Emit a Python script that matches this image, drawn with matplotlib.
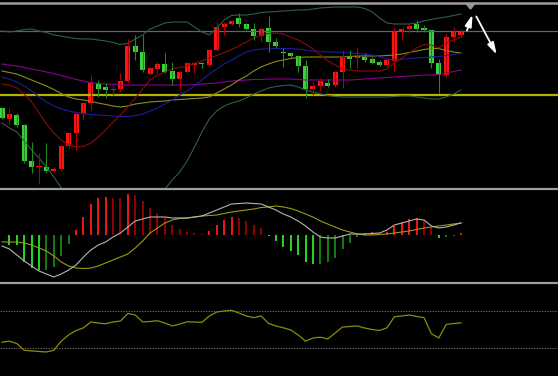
import matplotlib.pyplot as plt
import numpy as np
from matplotlib.lines import Line2D
from matplotlib.patches import Polygon, FancyArrowPatch

# ---- candles (price units) ----
opens = [92, 81, 85, 75, 39, 33, 33, 29, 31, 54,
         67, 86, 97, 117, 113, 110, 111, 119, 154, 148,
         126, 131, 136, 129, 121, 128, 135, 137, 135, 150,
         173, 176, 182, 176, 171, 164, 172, 158, 148, 147,
         144, 134, 111, 114, 117, 115, 128, 143, 142, 143,
         141, 138, 135, 139, 169, 171, 176, 172, 170, 137,
         125, 163, 165]
closes = [82, 86, 75, 39, 33, 34, 29.5, 31, 54, 67,
          86, 97, 117, 111, 110, 111.5, 119, 154, 148, 130,
          132, 136, 128.5, 121, 128, 137, 137.3, 136, 150, 173,
          176, 179.3, 176, 171, 164, 171, 158, 154, 147, 144,
          134, 111, 114, 119, 114.5, 128, 142, 141.5, 144, 140,
          137, 135, 140, 169, 171, 174, 171.5, 170, 137, 125,
          163, 168, 168.5]
highs = [93, 92, 87, 76, 58, 47, 57, 33, 55, 67,
         87, 98, 125, 120, 117, 114, 127, 161, 165, 165,
         133, 138, 147, 138, 130, 138, 138, 138, 151, 178,
         178, 180, 187, 177, 177, 173, 184, 162, 152, 148,
         145, 140, 118, 122, 121, 129, 150, 150, 153, 147,
         143, 140, 142, 173, 172, 176, 180, 175, 170, 141,
         167, 173, 171]
lows = [81, 76, 73, 37, 27, 16, 27, 28, 29, 52,
        50, 80, 90, 103, 102, 105, 108, 117, 140, 128,
        125, 127, 127, 115, 110, 127, 127, 132, 133, 149,
        165, 175.5, 173, 170, 160, 158, 148, 152, 133, 142,
        128, 102, 105, 109, 113, 113, 112, 132, 132, 138,
        136, 134, 133, 128, 160, 167, 168, 168, 132, 107,
        123, 158, 163]

# ---- overlays on the price panel ----
boll_upper = [169, 168, 169, 170.5, 171, 169, 167.5, 165, 164, 162.5,
              161.5, 161, 161, 160, 159, 157.5, 155.5, 156.5, 161, 165,
              171, 174, 177, 178, 178, 178, 173, 168, 165, 172,
              180, 184.5, 185, 185, 186, 187.5, 188, 188.5, 189, 189.5,
              190, 190, 191, 192, 192.5, 193, 193, 193, 193, 191.5,
              188, 182, 177, 176, 176, 176, 177, 179, 180.5, 182,
              183, 184.5, 186]
boll_lower = [77, 72, 68, 59, 50, 42, 33, 23, 12, 4,
              -2, -6, -8, -9, -9, -8, -7, -5, -2, 1,
              4, 7, 11, 20, 28, 39, 53, 68, 81, 89,
              94, 97, 99, 102, 106, 109, 112, 113.5, 114.5, 115,
              113, 110, 108, 106, 104.5, 103.5, 103, 103, 103, 103,
              103, 103, 103, 103.5, 104, 104, 103, 102, 101, 101,
              103, 106, 110]
ma_red = [116, 115, 112, 106, 98, 87, 76, 67, 60, 55,
          53, 53.5, 57, 63, 70, 78, 85, 93, 102, 111,
          120, 125, 128, 131, 132.5, 134, 136.5, 139, 142, 144.5,
          147.5, 150.5, 154, 158, 162, 165, 166.5, 167, 166, 163,
          160, 156, 151, 145, 139, 135, 131, 130, 129, 129,
          129, 129, 131, 137, 142, 147, 152, 155.5, 155, 152,
          157, 160, 163]
ma_blue = [123, 121, 118, 114, 109, 103, 98, 94, 91, 89,
           87.5, 86.5, 85.5, 85, 84.5, 84, 83.5, 83.5, 84.5, 86,
           89, 92, 96, 100, 105, 109, 114, 120, 126, 131,
           136, 140, 144, 148, 150, 151, 151, 151.5, 151.5, 151.5,
           151, 150, 149, 148.5, 148, 148, 147.5, 147, 146.5, 146,
           145, 143, 141, 140, 140.5, 141.5, 142, 142.5, 143, 143.5,
           144.5, 145.5, 147]
ma_olive = [129, 127.5, 126, 123, 120, 117, 114, 110.5, 106.5, 103,
            101, 100, 98.5, 97, 95.5, 94, 93, 94, 96, 97,
            98, 98.5, 99, 100, 100.5, 101, 101.5, 102, 103, 107,
            111, 115, 120, 124, 129, 133, 136, 138.5, 140, 141.5,
            142.5, 143, 143, 143, 143, 143, 143, 143.5, 144, 144,
            144, 144, 144.5, 145, 146, 147.5, 149, 150.5, 151.5, 151.5,
            149.5, 148, 147]
ma_purple = [136, 135, 134, 132.5, 131, 129.5, 128, 126.5, 124.5, 122.5,
             120.5, 119, 117.5, 116.5, 116, 115.5, 115, 115, 115, 115,
             115, 115, 115, 115, 115, 115, 115.5, 116, 116.5, 117,
             118, 119, 119.5, 120, 120.5, 120.5, 121, 121, 121, 121,
             120.5, 120, 120, 120, 120, 120, 120, 120, 120.5, 121,
             121.5, 122, 122.5, 123, 123.5, 124, 124.5, 125, 125, 125.5,
             127, 128.5, 130]
support_level = 105
resist_level = 169

# ---- MACD panel ----
macd_hist = [np.nan, -0.105, -0.105, -0.275, -0.335, -0.355, -0.35, -0.325, -0.215, -0.095,
             0.045, 0.175, 0.305, 0.365, 0.375, 0.37, 0.365, 0.405, 0.395, 0.335,
             0.265, 0.215, 0.165, 0.095, 0.055, 0.025, 0.015, 0.005, 0.035, 0.095,
             0.145, 0.175, 0.165, 0.135, 0.095, 0.065, -0.01, -0.065, -0.125, -0.165,
             -0.205, -0.275, -0.295, -0.29, -0.275, -0.235, -0.145, -0.085, -0.025, 0.015,
             0.025, 0.02, 0.03, 0.085, 0.125, 0.155, 0.165, 0.145, 0.065, -0.035,
             -0.025, -0.015, 0.015]
dif = [-0.115, -0.145, -0.205, -0.265, -0.315, -0.365, -0.395, -0.425, -0.395, -0.355,
       -0.305, -0.225, -0.155, -0.105, -0.075, -0.025, 0.015, 0.075, 0.135, 0.155,
       0.175, 0.175, 0.175, 0.165, 0.165, 0.165, 0.175, 0.185, 0.215, 0.245,
       0.275, 0.305, 0.31, 0.315, 0.31, 0.305, 0.275, 0.245, 0.205, 0.175,
       0.135, 0.085, 0.025, -0.025, -0.035, -0.035, -0.015, 0.005, 0.005, 0.005,
       0.01, 0.015, 0.045, 0.095, 0.115, 0.135, 0.155, 0.145, 0.085, 0.065,
       0.075, 0.095, 0.115]
dea = [-0.075, -0.075, -0.075, -0.085, -0.105, -0.135, -0.165, -0.215, -0.275, -0.315,
       -0.335, -0.34, -0.335, -0.315, -0.285, -0.255, -0.225, -0.195, -0.135, -0.065,
       0.015, 0.065, 0.115, 0.145, 0.16, 0.165, 0.175, 0.185, 0.19, 0.195,
       0.21, 0.225, 0.235, 0.245, 0.255, 0.27, 0.275, 0.285, 0.275, 0.26,
       0.235, 0.205, 0.175, 0.135, 0.105, 0.075, 0.045, 0.025, 0.005, -0.005,
       -0.005, 0.0, 0.005, 0.015, 0.025, 0.035, 0.05, 0.065, 0.075, 0.085,
       0.095, 0.105, 0.115]

# ---- oscillator panel ----
rsi = [36.2, 37.4, 34.8, 27.5, 26.8, 26.2, 25.7, 27.5, 37.4, 44.1,
       48.9, 51.8, 58.1, 57.0, 56.2, 58.1, 59.2, 67.4, 65.7, 58.1,
       58.6, 59.5, 57.0, 53.8, 55.9, 58.3, 58.1, 57.7, 64.6, 68.9,
       70.0, 70.8, 67.8, 64.6, 62.8, 64.6, 56.6, 53.8, 51.8, 49.5,
       44.1, 37.4, 40.8, 41.7, 39.7, 46.2, 52.7, 53.2, 53.8, 51.6,
       50.0, 48.9, 51.8, 63.8, 64.6, 65.7, 64.1, 62.8, 45.4, 40.9,
       55.5, 56.4, 57.2]
rsi_levels = [70, 30]

W, H = 558, 376
x = np.arange(len(opens))
o, c, hi, lo = map(np.array, (opens, closes, highs, lows))

fig = plt.figure(figsize=(W / 100, H / 100), dpi=100, facecolor='black')


def fy(py):
    return 1 - py / H


xlim = (-0.27, 75.1)
ax = fig.add_axes([0, fy(189), 1, fy(4) - fy(189)])
ax2 = fig.add_axes([0, fy(282), 1, fy(190.5) - fy(282)])
ax3 = fig.add_axes([0, 0, 1, fy(284)])
for a in (ax, ax2, ax3):
    a.set_facecolor('black')
    a.set_xlim(*xlim)
    a.set_xticks([])
    a.set_yticks([])
    for s in a.spines.values():
        s.set_visible(False)

# price panel
ax.set_ylim(11, 196)
ax.axhline(resist_level, color='#5c6672', lw=0.9)
ax.axhline(support_level, color='#b4b400', lw=1.6)
ax.plot(x, boll_upper, color='#2f5f47', lw=0.8)
ax.plot(x, boll_lower, color='#2f5f47', lw=0.8)
ax.plot(x, ma_purple, color='#8b008b', lw=0.8)
ax.plot(x, ma_olive, color='#8c8c1e', lw=0.8)
ax.plot(x, ma_blue, color='#1c1ca0', lw=0.8)
ax.plot(x, ma_red, color='#8b0a0a', lw=0.8)

up = c >= o
body_col = np.where(up, '#ff1414', '#3cd23c')
wick_col = np.where(up, '#b00000', '#1f8a1f')
ax.vlines(x, lo, hi, colors=wick_col, lw=0.8)
body_h = np.maximum(np.abs(c - o), 0.9)
ax.bar(x, body_h, bottom=np.minimum(o, c), width=0.68, color=body_col, linewidth=0)

# MACD panel
ax2.set_ylim(-0.475, 0.44)
hist = np.array(macd_hist)
prev = np.concatenate([[np.nan], hist[:-1]])
grow = (np.abs(hist) >= np.abs(prev)) | (np.sign(hist) != np.sign(prev))
hcol = np.where(hist >= 0,
                np.where(grow, '#ff1a1a', '#a00000'),
                np.where(grow, '#22ee22', '#108a10'))
ok = ~np.isnan(hist)
ax2.vlines(x[ok], 0, hist[ok], colors=hcol[ok], lw=1.3)
ax2.plot(x, dea, color='#9a9a10', lw=0.8)
ax2.plot(x, dif, color='#b4b4b4', lw=0.8)

# oscillator panel
ax3.set_ylim(-0.3, 99.2)
for lv in rsi_levels:
    ax3.axhline(lv, color='#6a6a6a', lw=0.8, ls=(0, (1.2, 1.2)))
ax3.plot(x, rsi, color='#8c8c0a', lw=0.9)

# frame lines
for py, lw in ((2.5, 1.8), (189, 1.6), (283, 1.6)):
    fig.add_artist(Line2D([0, 1], [fy(py), fy(py)], transform=fig.transFigure,
                          color='#9c9c9c', lw=lw))

# marker and arrows at the top right
tri = Polygon([(466 / W, fy(3.5)), (475 / W, fy(3.5)), (470.5 / W, fy(9))],
              closed=True, transform=fig.transFigure, color='#8a97a8')
fig.add_artist(tri)
for (x0, y0), (x1, y1) in (((466, 33), (473.5, 12)), ((475, 14), (498, 57))):
    fig.add_artist(FancyArrowPatch((x0 / W, fy(y0)), (x1 / W, fy(y1)),
                                   transform=fig.transFigure,
                                   arrowstyle='-|>,head_length=0.7,head_width=0.2',
                                   mutation_scale=10, color='white', lw=1.3))

plt.savefig('out.png', dpi=100, facecolor='black')
